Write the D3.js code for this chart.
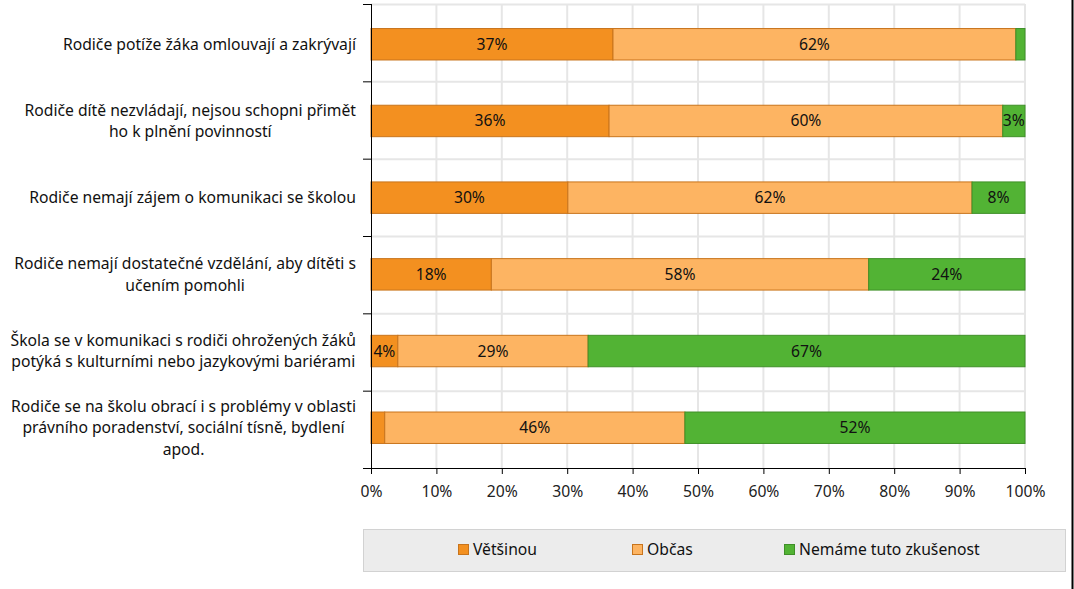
<!DOCTYPE html>
<html><head><meta charset="utf-8">
<script src="https://cdn.jsdelivr.net/npm/d3@7/dist/d3.min.js"></script>
<style>body{margin:0;background:#fff;} svg{display:block;font-family:"Noto Sans","Open Sans",sans-serif;}</style>
</head><body><svg id="c" width="1074" height="589"></svg>
<script>
const categories = [
  "Rodiče potíže žáka omlouvají a zakrývají",
  "Rodiče dítě nezvládají, nejsou schopni přimět ho k plnění povinností",
  "Rodiče nemají zájem o komunikaci se školou",
  "Rodiče nemají dostatečné vzdělání, aby dítěti s učením pomohli",
  "Škola se v komunikaci s rodiči ohrožených žáků potýká s kulturními nebo jazykovými bariérami",
  "Rodiče se na školu obrací i s problémy v oblasti právního poradenství, sociální tísně, bydlení apod."
];
const categoryLines = [
  ["Rodiče potíže žáka omlouvají a zakrývají"],
  ["Rodiče dítě nezvládají, nejsou schopni přimět", "ho k plnění povinností"],
  ["Rodiče nemají zájem o komunikaci se školou"],
  ["Rodiče nemají dostatečné vzdělání, aby dítěti s", "učením pomohli"],
  ["Škola se v komunikaci s rodiči ohrožených žáků", "potýká s kulturními nebo jazykovými bariérami"],
  ["Rodiče se na školu obrací i s problémy v oblasti", "právního poradenství, sociální tísně, bydlení", "apod."]
];
const seriesNames = ["Většinou", "Občas", "Nemáme tuto zkušenost"];
const vetsinou = [37.0, 36.4, 30.1, 18.4, 4.1, 2.1];
const obcas = [61.6, 60.2, 61.8, 57.7, 29.1, 45.9];
const nemame = [1.4, 3.4, 8.1, 23.9, 66.8, 52.0];
const tickValues = [0,10,20,30,40,50,60,70,80,90,100];
const colors = ["#f39020", "#fdb462", "#52b334"];
const strokes = ["#c8741c", "#c8741c", "#3f8f28"];
const FS = 15.7;

const svg = d3.select("#c");
const x = d3.scaleLinear().domain([0,100]).range([371,1025]);
const y = d3.scaleBand().domain(d3.range(categories.length)).range([4,468]).paddingInner(0.59).paddingOuter(0.32);
const yb = d3.scaleBand().domain(d3.range(categories.length)).range([4,468]);

// gridlines
svg.append("g").selectAll("line").data(tickValues.slice(1)).join("line")
  .attr("x1",d=>x(d)).attr("x2",d=>x(d)).attr("y1",4).attr("y2",468)
  .attr("stroke","#e6e6e6").attr("stroke-width",2);
svg.append("g").selectAll("line").data(d3.range(categories.length)).join("line")
  .attr("x1",371).attr("x2",1025).attr("y1",d=>yb(d)+0.5).attr("y2",d=>yb(d)+0.5)
  .attr("stroke","#e6e6e6").attr("stroke-width",2);

const rows = categories.map((c,i)=>({i, v:[vetsinou[i],obcas[i],nemame[i]]}));
const stack = d3.stack().keys([0,1,2]).value((d,k)=>d.v[k]);
const stacked = stack(rows);

stacked.forEach((layer,k)=>{
  const g = svg.append("g");
  g.selectAll("rect").data(layer).join("rect")
    .attr("x",d=>x(d[0])).attr("width",d=>x(d[1])-x(d[0]))
    .attr("y",d=>y(d.data.i)).attr("height",y.bandwidth())
    .attr("fill",colors[k]).attr("stroke",strokes[k]).attr("stroke-width",1);
  g.selectAll("text").data(layer.filter(d=>d[1]-d[0]>=3)).join("text")
    .attr("x",d=>(x(d[0])+x(d[1]))/2).attr("y",d=>y(d.data.i)+y.bandwidth()/2)
    .attr("dy","0.35em").attr("text-anchor","middle").attr("font-size",FS).attr("fill","#111")
    .text(d=>Math.round(d[1]-d[0])+"%");
});

// axes
const xAxis = d3.axisBottom(x).tickValues(tickValues).tickFormat(d=>d+"%").tickSize(6).tickPadding(12);
const gx = svg.append("g").attr("transform","translate(0,468)").call(xAxis);
gx.select(".domain").attr("d","M363,0.5H1025.5");
gx.selectAll("text").attr("font-size",FS).attr("fill","#222").attr("font-family","Noto Sans");
gx.selectAll("line,path").attr("stroke","#000");

const gy = svg.append("g");
gy.append("line").attr("x1",371.5).attr("x2",371.5).attr("y1",4).attr("y2",468).attr("stroke","#000");
gy.selectAll("line.t").data(d3.range(categories.length)).join("line").attr("class","t")
  .attr("x1",363).attr("x2",371).attr("y1",d=>yb(d)+0.5).attr("y2",d=>yb(d)+0.5).attr("stroke","#000");

const lab = svg.append("g");
categoryLines.forEach((lines,i)=>{
  const cy = y(i)+y.bandwidth()/2;
  const lh = 21.5;
  const t = lab.append("text").attr("text-anchor","middle").attr("font-size",FS).attr("fill","#111");
  const spans = lines.map((l,j)=> t.append("tspan").attr("y",cy+(j-(lines.length-1)/2)*lh).attr("dy","0.35em").text(l));
  const w = d3.max(spans, s=>s.node().getComputedTextLength());
  spans.forEach(s=>s.attr("x",356 - w/2));
});

// legend
svg.append("rect").attr("x",363.5).attr("y",529.5).attr("width",702).attr("height",42)
  .attr("fill","#ececec").attr("stroke","#d2d2d2");
const legX = [458, 632, 784];
const lg = svg.append("g");
seriesNames.forEach((n,k)=>{
  lg.append("rect").attr("x",legX[k]+0.5).attr("y",544.5).attr("width",10).attr("height",10)
    .attr("fill",colors[k]).attr("stroke",strokes[k]);
  lg.append("text").attr("x",legX[k]+15).attr("y",549.5).attr("dy","0.35em").attr("font-size",FS).attr("fill","#111").text(n);
});

// right border
svg.append("line").attr("x1",1072.5).attr("x2",1072.5).attr("y1",0).attr("y2",589).attr("stroke","#000").attr("stroke-width",2);
</script></body></html>
